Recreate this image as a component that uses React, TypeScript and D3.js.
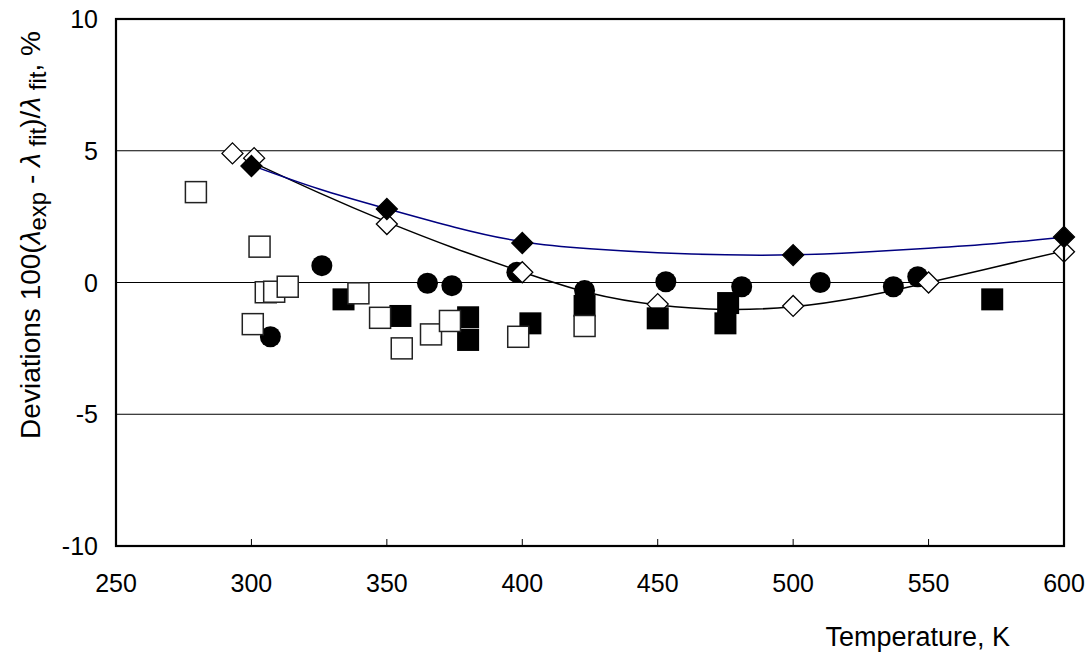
import * as d3 from 'd3'

const xTicks = [250, 300, 350, 400, 450, 500, 550, 600]
const yTicks = [-10, -5, 0, 5, 10]
const gridValues = [-5, 0, 5]

// fit curves
const blueFit: [number, number][] = [
  [300, 4.45], [325, 3.55], [350, 2.8], [375, 2.1], [400, 1.55], [425, 1.28],
  [450, 1.13], [475, 1.05], [500, 1.05], [525, 1.15], [550, 1.3], [575, 1.48],
  [600, 1.72],
]
const blackFit: [number, number][] = [
  [300, 4.58], [325, 3.4], [350, 2.3], [375, 1.3], [400, 0.4], [425, -0.4],
  [450, -0.85], [475, -1.02], [500, -0.92], [525, -0.55], [550, 0.0], [575, 0.6],
  [600, 1.2],
]

const filledDiamonds: [number, number][] = [
  [300, 4.42], [350, 2.79], [400, 1.5], [500, 1.04], [600, 1.73],
]
const openDiamonds: [number, number][] = [
  [293, 4.9], [301, 4.72], [350, 2.22], [400, 0.39], [450, -0.82], [500, -0.89],
  [550, 0.0], [600, 1.17],
]
const circles: [number, number][] = [
  [307, -2.06], [326, 0.64], [365, -0.03], [374, -0.12], [398, 0.39], [423, -0.3],
  [453, 0.03], [481, -0.16], [510, 0.0], [537, -0.16], [546, 0.22],
]
const filledSquares: [number, number][] = [
  [334, -0.64], [355, -1.27], [380, -1.32], [380, -2.18], [403, -1.55], [423, -0.89],
  [450, -1.36], [476, -0.78], [475, -1.55], [573.5, -0.64],
]
const openSquares: [number, number][] = [
  [279.5, 3.43], [303, 1.36], [300.5, -1.58], [305.3, -0.37], [308.4, -0.35],
  [313.4, -0.16], [339.5, -0.41], [347.5, -1.34], [355.5, -2.5], [366.3, -1.97],
  [373.3, -1.46], [398.5, -2.06], [423, -1.65],
]

const W = 1090
const H = 653
const margin = { left: 116, right: 1064, top: 19, bottom: 546 }
const font = '"Liberation Sans", Arial, sans-serif'

export default function App() {
  const x = d3.scaleLinear().domain([250, 600]).range([margin.left, margin.right])
  const y = d3.scaleLinear().domain([-10, 10]).range([margin.bottom, margin.top])

  const line = d3
    .line<[number, number]>()
    .x(d => x(d[0]))
    .y(d => y(d[1]))
    .curve(d3.curveNatural)

  const half = 10.5
  const dHalf = 10.5

  const diamond = (d: [number, number], fill: string, key: number) => {
    const cx = x(d[0])
    const cy = y(d[1])
    return (
      <path
        key={key}
        d={`M${cx},${cy - dHalf}L${cx + dHalf},${cy}L${cx},${cy + dHalf}L${cx - dHalf},${cy}Z`}
        fill={fill}
        stroke="#000"
        strokeWidth={1.3}
      />
    )
  }

  return (
    <svg
      width={W}
      height={H}
      style={{ position: 'absolute', left: 0, top: 0, background: '#fff' }}
      fontFamily={font}
    >
      {gridValues.map(v => (
        <line key={v} x1={margin.left} x2={margin.right} y1={y(v)} y2={y(v)} stroke="#000" strokeWidth={1} />
      ))}
      {xTicks.slice(1, -1).map(t => (
        <line key={t} x1={x(t)} x2={x(t)} y1={margin.bottom} y2={margin.bottom - 7} stroke="#000" strokeWidth={1} />
      ))}

      {/* circles */}
      {circles.map((d, i) => (
        <circle key={i} cx={x(d[0])} cy={y(d[1])} r={10.5} fill="#000" />
      ))}

      {/* black fit + open diamonds */}
      <path d={line(blackFit) ?? ''} fill="none" stroke="#000" strokeWidth={1.5} />
      {openDiamonds.map((d, i) => diamond(d, '#fff', i))}

      {/* blue fit + filled diamonds */}
      <path d={line(blueFit) ?? ''} fill="none" stroke="#000080" strokeWidth={1.5} />
      {filledDiamonds.map((d, i) => diamond(d, '#000', i))}

      {filledSquares.map((d, i) => (
        <rect key={i} x={x(d[0]) - 11} y={y(d[1]) - 11} width={22} height={22} fill="#000" />
      ))}
      {openSquares.map((d, i) => (
        <rect
          key={i}
          x={x(d[0]) - half}
          y={y(d[1]) - half}
          width={half * 2}
          height={half * 2}
          fill="#fff"
          stroke="#222"
          strokeWidth={1.5}
        />
      ))}

      <rect
        x={margin.left}
        y={margin.top}
        width={margin.right - margin.left}
        height={margin.bottom - margin.top}
        fill="none"
        stroke="#000"
        strokeWidth={2.2}
      />

      {xTicks.map(t => (
        <text key={t} x={x(t)} y={592} textAnchor="middle" fontSize={25} fill="#000">
          {t}
        </text>
      ))}
      {yTicks.map(t => (
        <text key={t} x={98} y={y(t) + 9} textAnchor="end" fontSize={25} fill="#000">
          {t}
        </text>
      ))}

      <text x={1010} y={646} textAnchor="end" fontSize={27} fill="#000">
        Temperature, K
      </text>

      <text transform="translate(40,235) rotate(-90)" textAnchor="middle" fontSize={28} fill="#000">
        Deviations 100(
        <tspan fontStyle="italic">λ</tspan>
        <tspan fontSize={24} dy={6}>exp</tspan>
        <tspan dy={-6}> - </tspan>
        <tspan fontStyle="italic">λ</tspan>
        <tspan fontSize={24} dy={6}> fit</tspan>
        <tspan dy={-6}>)/</tspan>
        <tspan fontStyle="italic">λ</tspan>
        <tspan fontSize={24} dy={6}> fit</tspan>
        <tspan dy={-6}>, %</tspan>
      </text>
    </svg>
  )
}
